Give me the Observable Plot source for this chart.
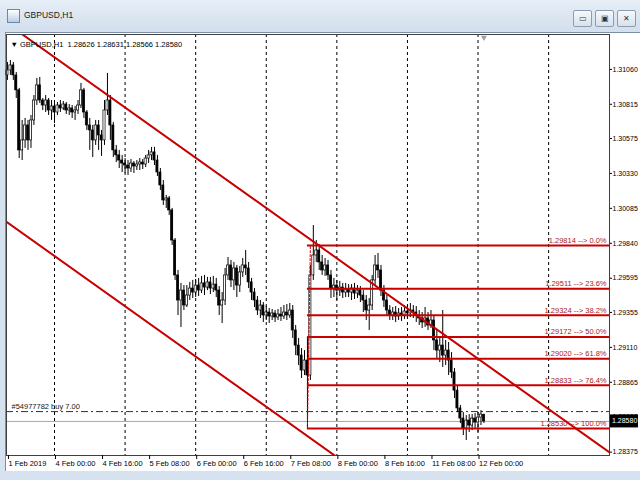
<!DOCTYPE html>
<html>
<head>
<meta charset="utf-8">
<script src="https://cdn.jsdelivr.net/npm/d3@7"></script>
<script src="https://cdn.jsdelivr.net/npm/@observablehq/plot@0.6"></script>
<style>
  body { margin: 0; background: #dbe5f0; }
  #win { position: relative; width: 640px; height: 480px; overflow: hidden; background: #d6e2ef; font-family: "Liberation Sans", Arial, sans-serif; }
  #titlebar { position: absolute; left: 0; top: 0; width: 640px; height: 31px; background: linear-gradient(#e6eef7, #d3dfed); }
  #icon { position: absolute; left: 7px; top: 9px; width: 11px; height: 12px; border: 1px solid #6d87a8; background: linear-gradient(#ffffff, #b9cde4); }
  #title { position: absolute; left: 24px; top: 10px; font-size: 8.5px; color: #1b1b1b; }
  .btn { position: absolute; top: 10px; width: 17px; height: 15px; border: 1px solid #8d9db1; border-radius: 2px; background: linear-gradient(#f7f9fc, #d8e1eb); font-size: 8px; line-height: 15px; text-align: center; color: #333; }
  #chartbg { position: absolute; left: 5px; top: 32px; width: 635px; height: 438px; background: #ffffff; border-left: 1px solid #7f8fa3; border-top: 1px solid #7f8fa3; }
  #plot { position: absolute; left: 0; top: 0; }
</style>
</head>
<body>
<div id="win">
  <div id="titlebar">
    <div id="icon"></div>
    <div id="title"></div>
    <div class="btn" style="left:573px">&#9645;</div>
    <div class="btn" style="left:595px">&#9635;</div>
    <div class="btn" style="left:617px">&#10005;</div>
  </div>
  <div id="chartbg"></div>
  <div id="plot"></div>
</div>
<script>
// GBPUSD hourly bars, 1 Feb 2019 08:00 .. 12 Feb 2019 02:00 (bar index 0..162)
const symbol = "GBPUSD,H1";

const opens = [
  1.31007,1.31042,1.31077,1.31007,1.30902,1.30481,1.30551,1.30656,1.30551,1.30691,
  1.30831,1.30937,1.30831,1.30796,1.30831,1.30761,1.30789,1.30747,1.30796,1.30775,
  1.30803,1.30761,1.30775,1.30747,1.30761,1.30796,1.30902,1.30747,1.30656,1.30621,
  1.30551,1.30656,1.30586,1.30551,1.30761,1.30831,1.30656,1.30481,1.30446,1.30410,
  1.30389,1.30375,1.30354,1.30389,1.30368,1.30382,1.30396,1.30382,1.30424,1.30446,
  1.30467,1.30410,1.30326,1.30235,1.30130,1.30144,1.30060,1.29849,1.29604,1.29428,
  1.29498,1.29393,1.29463,1.29512,1.29484,1.29533,1.29498,1.29548,1.29519,1.29555,
  1.29512,1.29540,1.29498,1.29393,1.29428,1.29604,1.29674,1.29569,1.29653,1.29533,
  1.29625,1.29674,1.29653,1.29555,1.29484,1.29428,1.29358,1.29393,1.29323,1.29344,
  1.29316,1.29337,1.29309,1.29330,1.29316,1.29344,1.29323,1.29358,1.29218,1.29112,
  1.29042,1.28937,1.29007,1.28902,1.29604,1.29744,1.29779,1.29695,1.29639,1.29674,
  1.29604,1.29512,1.29533,1.29498,1.29519,1.29484,1.29505,1.29484,1.29512,1.29477,
  1.29498,1.29463,1.29428,1.29358,1.29393,1.29569,1.29674,1.29639,1.29498,1.29428,
  1.29358,1.29323,1.29344,1.29316,1.29337,1.29323,1.29351,1.29337,1.29358,1.29344,
  1.29323,1.29302,1.29274,1.29302,1.29253,1.29288,1.29148,1.29077,1.29112,1.29042,
  1.29077,1.29007,1.28923,1.28796,1.28671,1.28600,1.28530,1.28586,1.28551,1.28600,
  1.28572,1.28607,1.28626
];
const highs = [
  1.31098,1.31112,1.31098,1.31028,1.30916,1.30691,1.30705,1.30691,1.30726,1.30866,
  1.30986,1.30993,1.30845,1.30866,1.30845,1.30831,1.30810,1.30817,1.30831,1.30824,
  1.30817,1.30803,1.30796,1.30789,1.30831,1.30951,1.30916,1.30761,1.30705,1.30656,
  1.30691,1.30691,1.30621,1.30831,1.31021,1.30866,1.30677,1.30516,1.30481,1.30446,
  1.30424,1.30410,1.30417,1.30403,1.30410,1.30424,1.30417,1.30446,1.30481,1.30502,
  1.30502,1.30446,1.30354,1.30270,1.30165,1.30158,1.30074,1.29863,1.29639,1.29548,
  1.29533,1.29533,1.29555,1.29569,1.29576,1.29583,1.29597,1.29604,1.29590,1.29590,
  1.29597,1.29583,1.29526,1.29484,1.29653,1.29730,1.29709,1.29695,1.29674,1.29667,
  1.29723,1.29779,1.29695,1.29583,1.29512,1.29456,1.29428,1.29414,1.29386,1.29372,
  1.29365,1.29358,1.29365,1.29379,1.29393,1.29400,1.29407,1.29393,1.29253,1.29162,
  1.29091,1.29077,1.29169,1.29674,1.29954,1.29849,1.29821,1.29744,1.29723,1.29709,
  1.29639,1.29583,1.29569,1.29562,1.29548,1.29548,1.29540,1.29540,1.29548,1.29533,
  1.29526,1.29498,1.29463,1.29442,1.29604,1.29744,1.29758,1.29674,1.29533,1.29463,
  1.29393,1.29379,1.29386,1.29372,1.29379,1.29393,1.29393,1.29407,1.29393,1.29386,
  1.29358,1.29344,1.29379,1.29344,1.29358,1.29323,1.29218,1.29169,1.29358,1.29148,
  1.29134,1.29063,1.28951,1.28831,1.28692,1.28642,1.28621,1.28628,1.28628,1.28635,
  1.28642,1.28656,1.28631
];
const lows = [
  1.30972,1.31007,1.30972,1.30845,1.30424,1.30410,1.30495,1.30481,1.30495,1.30656,
  1.30796,1.30810,1.30761,1.30747,1.30726,1.30691,1.30670,1.30726,1.30747,1.30761,
  1.30733,1.30726,1.30705,1.30691,1.30733,1.30775,1.30705,1.30621,1.30481,1.30431,
  1.30516,1.30481,1.30439,1.30516,1.30726,1.30551,1.30431,1.30396,1.30354,1.30326,
  1.30319,1.30305,1.30326,1.30319,1.30340,1.30340,1.30347,1.30361,1.30389,1.30410,
  1.30375,1.30298,1.30200,1.30095,1.30074,1.30025,1.29814,1.29569,1.29323,1.29239,
  1.29358,1.29379,1.29428,1.29442,1.29449,1.29456,1.29477,1.29463,1.29498,1.29470,
  1.29484,1.29449,1.29323,1.29267,1.29393,1.29569,1.29519,1.29498,1.29449,1.29484,
  1.29590,1.29604,1.29512,1.29428,1.29379,1.29323,1.29302,1.29274,1.29288,1.29267,
  1.29288,1.29274,1.29288,1.29281,1.29295,1.29288,1.29302,1.29162,1.29042,1.28972,
  1.28881,1.28902,1.28530,1.28867,1.29569,1.29695,1.29639,1.29604,1.29597,1.29569,
  1.29442,1.29449,1.29428,1.29456,1.29442,1.29449,1.29449,1.29428,1.29435,1.29442,
  1.29414,1.29344,1.29288,1.29218,1.29358,1.29533,1.29583,1.29456,1.29379,1.29323,
  1.29288,1.29288,1.29274,1.29288,1.29281,1.29295,1.29302,1.29309,1.29302,1.29274,
  1.29253,1.29232,1.29239,1.29218,1.29232,1.29077,1.29021,1.28993,1.28958,1.28972,
  1.28902,1.28881,1.28741,1.28642,1.28565,1.28481,1.28446,1.28502,1.28516,1.28530,
  1.28502,1.28551,1.28566
];
const closes = [
  1.31042,1.31077,1.31007,1.30902,1.30481,1.30551,1.30656,1.30551,1.30691,1.30831,
  1.30937,1.30831,1.30796,1.30831,1.30761,1.30789,1.30747,1.30796,1.30775,1.30803,
  1.30761,1.30775,1.30747,1.30761,1.30796,1.30902,1.30747,1.30656,1.30621,1.30551,
  1.30656,1.30586,1.30551,1.30761,1.30831,1.30656,1.30481,1.30446,1.30410,1.30389,
  1.30375,1.30354,1.30389,1.30368,1.30382,1.30396,1.30382,1.30424,1.30446,1.30467,
  1.30410,1.30326,1.30235,1.30130,1.30144,1.30060,1.29849,1.29604,1.29428,1.29498,
  1.29393,1.29463,1.29512,1.29484,1.29533,1.29498,1.29548,1.29519,1.29555,1.29512,
  1.29540,1.29498,1.29393,1.29428,1.29604,1.29674,1.29569,1.29653,1.29533,1.29625,
  1.29674,1.29653,1.29555,1.29484,1.29428,1.29358,1.29393,1.29323,1.29344,1.29316,
  1.29337,1.29309,1.29330,1.29316,1.29344,1.29323,1.29358,1.29218,1.29112,1.29042,
  1.28937,1.29007,1.28902,1.29604,1.29744,1.29779,1.29695,1.29639,1.29674,1.29604,
  1.29512,1.29533,1.29498,1.29519,1.29484,1.29505,1.29484,1.29512,1.29477,1.29498,
  1.29463,1.29428,1.29358,1.29393,1.29569,1.29674,1.29639,1.29498,1.29428,1.29358,
  1.29323,1.29344,1.29316,1.29337,1.29323,1.29351,1.29337,1.29358,1.29344,1.29323,
  1.29302,1.29274,1.29302,1.29253,1.29288,1.29148,1.29077,1.29112,1.29042,1.29077,
  1.29007,1.28923,1.28796,1.28671,1.28600,1.28530,1.28586,1.28551,1.28600,1.28572,
  1.28607,1.28628,1.28580
];

// time axis: bar index of each label and its text
const timeLabelBars = [0, 16, 32, 48, 64, 80, 96, 112, 128, 144, 160];
const timeLabels = ["1 Feb 2019", "4 Feb 00:00", "4 Feb 16:00", "5 Feb 08:00", "6 Feb 00:00",
  "6 Feb 16:00", "7 Feb 08:00", "8 Feb 00:00", "8 Feb 16:00", "11 Feb 08:00", "12 Feb 00:00"];
// daily period separators (00:00 of each trading day)
const daySeparatorBars = [16, 40, 64, 88, 112, 136, 160, 184];

// price axis labels
const priceTicks = [1.31060, 1.30815, 1.30575, 1.30330, 1.30085, 1.29840,
  1.29595, 1.29355, 1.29110, 1.28865, 1.28620, 1.28375];

// equidistant channel: two anchor bars and the price of each border there
const channelBars = [-1, 205];
const channelUpper = [1.31384, 1.28358];
const channelLower = [1.29990, 1.26964];

// Fibonacci retracement (0% high, 100% low)
const fibStartBar = 102;
const fibTrendBars = [102, 103];
const fibTrendPrices = [1.28530, 1.29814];
const fibPrices = [1.29814, 1.29511, 1.29324, 1.29172, 1.29020, 1.28833, 1.28530];
const fibPercents = ["0.0", "23.6", "38.2", "50.0", "61.8", "76.4", "100.0"];

// open order line
const orderPrice = 1.28649;
const orderLabel = "#54977782 buy 7.00";

document.getElementById("title").textContent = symbol;

const bars = d3.range(opens.length);
const last = bars.length - 1;
const lastClose = closes[last];
const headerText = "\u25BC " + symbol + "  " +
  [opens[last], highs[last], lows[last], closes[last]].map(v => v.toFixed(5)).join(" ");

const xMin = -0.32, xMax = 204.7;
const red = "#c80000";
const fmt = d3.format(".5f");

const plot = Plot.plot({
  width: 640,
  height: 480,
  marginLeft: 6,
  marginRight: 31,
  marginTop: 34,
  marginBottom: 25,
  style: { background: "transparent", fontFamily: "'Liberation Sans', Arial, sans-serif", fontSize: "7.5px", color: "#000", overflow: "visible" },
  x: { type: "linear", domain: [xMin, xMax] },
  y: { domain: [1.28341, 1.31294] },
  marks: [
    // daily separators
    Plot.ruleX(daySeparatorBars, { x: d => d, stroke: "#000", strokeDasharray: "3,3", strokeWidth: 1 }),
    // order line and bid line
    Plot.ruleY([orderPrice], { y: d => d, stroke: "#303030", strokeDasharray: "7,3,2,3", strokeWidth: 1 }),
    Plot.text([orderLabel], { frameAnchor: "left", y: orderPrice, text: d => d, dx: 5, dy: -5, textAnchor: "start", fill: "#202020", fontSize: 7.5 }),
    Plot.ruleY([lastClose], { y: d => d, stroke: "#a8a8a8", strokeWidth: 1 }),
    // candles: wicks then bodies
    Plot.ruleX(bars, { x: i => i, y1: i => lows[i], y2: i => highs[i], stroke: "#000", strokeWidth: 1 }),
    Plot.rect(bars, {
      x1: i => i - 0.36, x2: i => i + 0.36,
      y1: i => opens[i], y2: i => closes[i],
      fill: i => closes[i] >= opens[i] ? "#fff" : "#000",
      stroke: "#000", strokeWidth: 0.7
    }),
    // Fibonacci levels
    Plot.ruleY(fibPrices, { y: d => d, x1: fibStartBar, x2: xMax, stroke: red, strokeWidth: 2 }),
    Plot.line(fibTrendBars.map((b, i) => ({ b, p: fibTrendPrices[i] })), { x: "b", y: "p", stroke: red, strokeWidth: 1, strokeDasharray: "2,2" }),
    Plot.text(fibPrices, {
      x: xMax, y: d => d, text: (d, i) => `${fmt(d)} --> ${fibPercents[i]}%`,
      textAnchor: "end", dx: -3, dy: -5, fill: "#b01818", fontSize: 7.5
    }),
    // channel borders
    Plot.line(channelBars.map((b, i) => ({ b, p: channelUpper[i] })), { x: "b", y: "p", stroke: red, strokeWidth: 2, clip: true }),
    Plot.line(channelBars.map((b, i) => ({ b, p: channelLower[i] })), { x: "b", y: "p", stroke: red, strokeWidth: 2, clip: true }),
    // frame and axes
    Plot.frame({ stroke: "#404040" }),
    Plot.axisY({ anchor: "right", ticks: priceTicks, tickFormat: fmt, tickSize: 2, tickPadding: 1, dy: 1.5, label: null, fontSize: 7 }),
    Plot.axisX({ anchor: "bottom", ticks: timeLabelBars, tickFormat: b => timeLabels[timeLabelBars.indexOf(b)], tickSize: 4, tickPadding: 1, textAnchor: "start", dx: 1, label: null, fontSize: 7.5 }),
    // header line with last bar values
    Plot.text([headerText], { frameAnchor: "top-left", text: d => d, dx: 4, dy: 10, lineAnchor: "middle", textAnchor: "start", fill: "#000", fontSize: 7.5 }),
    // chart shift marker above the last bar
    Plot.dot([last], { x: d => d, frameAnchor: "top", y: null, symbol: "triangle", rotate: 180, r: 2.2, fill: "#a0a0a0", dy: 3 }),
    // bid price label on the price axis
    (index, scales, values, dims) => {
      const y = scales.y(lastClose);
      const x0 = dims.width - dims.marginRight + 1;
      const g = d3.create("svg:g");
      g.append("rect").attr("x", x0).attr("y", y - 6.5).attr("width", 28).attr("height", 13).attr("fill", "#000");
      g.append("text").attr("x", x0 + 2).attr("y", y).attr("dy", "0.35em").attr("text-anchor", "start")
        .attr("fill", "#fff").attr("font-size", 7).text(fmt(lastClose));
      return g.node();
    }
  ]
});

document.getElementById("plot").appendChild(plot);
</script>
</body>
</html>
